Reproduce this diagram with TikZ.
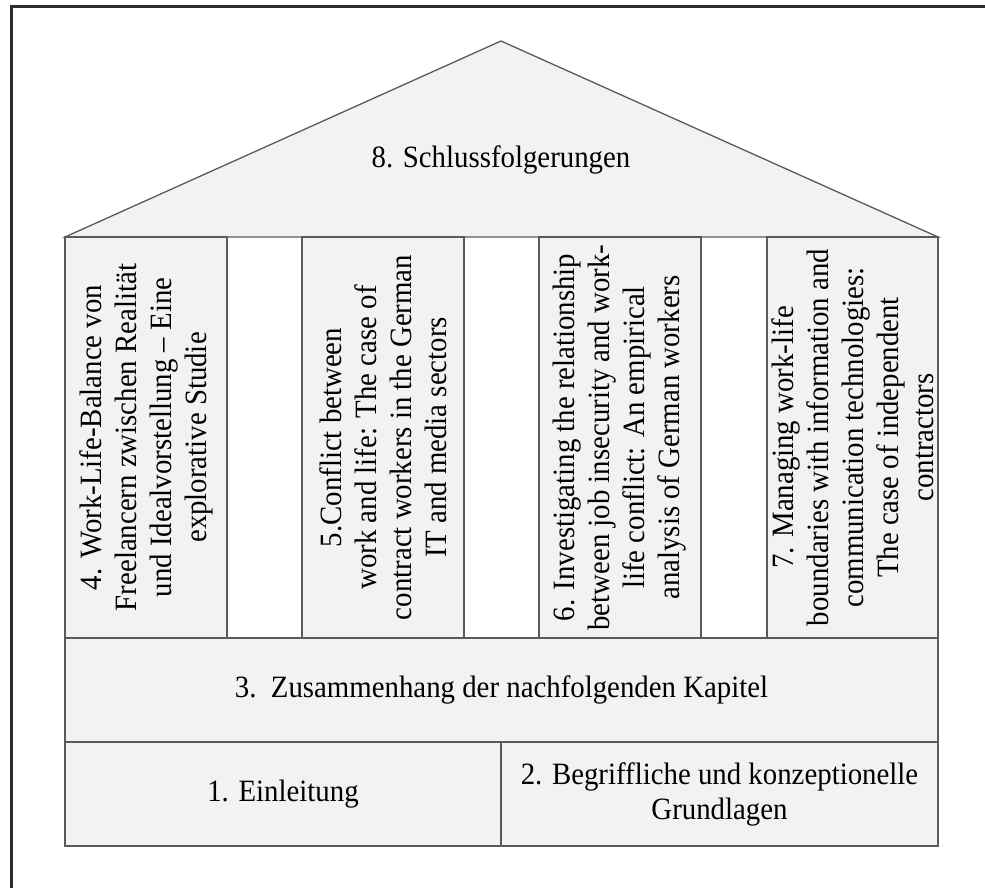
\documentclass[tikz,border=0pt]{standalone}
\usepackage{fontspec}
\setmainfont{Liberation Serif}[FakeStretch=0.93]
\definecolor{boxfill}{HTML}{F2F2F2}
\definecolor{boxline}{HTML}{5A5A5A}
\definecolor{frameline}{HTML}{2E2E2E}
\begin{document}
\begin{tikzpicture}[x=1pt,y=-1pt,
  txt/.style={font=\fontsize{31pt}{35pt}\selectfont, align=center, inner sep=0pt},
  part/.style={draw=boxline, fill=boxfill, line width=1.3pt},
  block/.style={part, txt, rectangle},
  pillar/.style={block, rotate=90, minimum width=401pt}
]
\useasboundingbox (0,0) rectangle (985,888);
% outer frame (only left and top edges visible)
\draw[frameline, line width=3pt] (11.5,888) -- (11.5,6.5) -- (985,6.5);
% roof
\draw[part] (65,237) -- (501,41) -- (938,237) -- cycle;
\node[txt] (roof) at (501,160) {8. Schlussfolgerungen};
% pillars
\node[pillar, minimum height=162pt] (c4) at (146,437.5)
  {4. Work-Life-Balance von\\Freelancern zwischen Realität\\und Idealvorstellung – Eine\\explorative Studie};
\node[pillar, minimum height=162pt] (c5) at (383,437.5)
  {5.Conflict between\\work and life: The case of\\contract workers in the German\\IT and media sectors};
\node[pillar, minimum height=162pt] (c6) at (620,437.5)
  {6. Investigating the relationship\\between job insecurity and work-\\life conflict: An empirical\\analysis of German workers};
\node[pillar, minimum height=171pt] (c7) at (852.5,437.5)
  {7. Managing work-life\\boundaries with information and\\communication technologies:\\The case of independent\\contractors};
% base rows
\node[block, minimum width=873pt, minimum height=104pt] (r3) at (501.5,690)
  {3.\ \ Zusammenhang der nachfolgenden Kapitel};
\node[block, minimum width=436pt, minimum height=104pt] (r1) at (283,794)
  {1. Einleitung};
\node[block, minimum width=437pt, minimum height=104pt] (r2) at (719.5,794)
  {2. Begriffliche und konzeptionelle\\Grundlagen};
\end{tikzpicture}
\end{document}
